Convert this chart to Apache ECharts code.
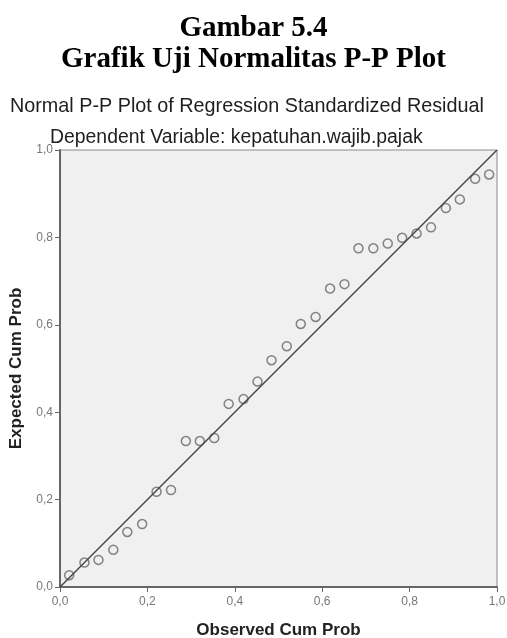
<!DOCTYPE html>
<html>
<head>
<meta charset="utf-8">
<title>Grafik Uji Normalitas P-P Plot</title>
<script src="https://cdn.jsdelivr.net/npm/echarts@6/dist/echarts.min.js"></script>
<style>
    html, body { margin: 0; padding: 0; background: #fff; }
    #main { width: 507px; height: 638px; }
</style>
</head>
<body>
<div id="main"></div>
<script>
// observed cum prob (x) and expected cum prob (y)
var observed = [0.021, 0.056, 0.088, 0.122, 0.154, 0.188, 0.221, 0.254, 0.288, 0.320,
                0.353, 0.386, 0.420, 0.452, 0.484, 0.519, 0.551, 0.585, 0.618, 0.651,
                0.683, 0.717, 0.750, 0.783, 0.816, 0.849, 0.883, 0.915, 0.950, 0.982];
var expected = [0.027, 0.056, 0.062, 0.085, 0.126, 0.144, 0.218, 0.222, 0.334, 0.334,
                0.341, 0.419, 0.430, 0.470, 0.519, 0.551, 0.602, 0.618, 0.683, 0.693,
                0.775, 0.775, 0.786, 0.799, 0.809, 0.823, 0.867, 0.887, 0.934, 0.944];
// diagonal reference line
var refLine = [[0, 0], [1, 1]];

var points = [];
for (var i = 0; i < observed.length; i++) {
    points.push([observed[i], expected[i]]);
}

// SPSS style labels: 0,2 instead of 0.2
function commaLabel(v) {
    return v.toFixed(1).replace('.', ',');
}

var myChart = echarts.init(document.getElementById('main'));
myChart.setOption({
    animation: false,
    backgroundColor: '#fff',
    title: [
        {
            text: 'Gambar 5.4\nGrafik Uji Normalitas P-P Plot',
            left: 'center',
            top: 8,
            textStyle: {
                fontFamily: 'Liberation Serif',
                fontWeight: 'bold',
                fontSize: 29,
                lineHeight: 31,
                color: '#000'
            }
        },
        {
            text: 'Normal P-P Plot of Regression Standardized Residual',
            left: 5,
            top: 92,
            textStyle: {
                fontFamily: 'Liberation Sans',
                fontWeight: 'normal',
                fontSize: 19.8,
                color: '#1e1e1e'
            }
        },
        {
            text: 'Dependent Variable: kepatuhan.wajib.pajak',
            left: 45,
            top: 123,
            textStyle: {
                fontFamily: 'Liberation Sans',
                fontWeight: 'normal',
                fontSize: 19.4,
                color: '#1e1e1e'
            }
        }
    ],
    grid: {
        left: 60,
        top: 150,
        width: 437,
        height: 437,
        outerBoundsMode: 'none',
        show: true,
        backgroundColor: '#f0f0f0',
        borderColor: '#8a8a8a',
        borderWidth: 1
    },
    xAxis: {
        type: 'value',
        min: 0,
        max: 1,
        interval: 0.2,
        name: 'Observed Cum Prob',
        nameLocation: 'middle',
        nameGap: 35,
        nameTextStyle: {
            fontFamily: 'Liberation Sans',
            fontWeight: 'bold',
            fontSize: 17,
            color: '#222'
        },
        axisLine: { show: true, lineStyle: { color: '#666', width: 2 } },
        axisTick: { show: true, length: 5, lineStyle: { color: '#666' } },
        axisLabel: {
            formatter: commaLabel,
            fontFamily: 'Liberation Sans',
            fontSize: 12,
            color: '#777',
            margin: 9
        },
        splitLine: { show: false }
    },
    yAxis: {
        type: 'value',
        min: 0,
        max: 1,
        interval: 0.2,
        name: 'Expected Cum Prob',
        nameLocation: 'middle',
        nameGap: 35,
        nameRotate: 90,
        nameTextStyle: {
            fontFamily: 'Liberation Sans',
            fontWeight: 'bold',
            fontSize: 17,
            color: '#222'
        },
        axisLine: { show: true, lineStyle: { color: '#666', width: 2 } },
        axisTick: { show: true, length: 5, lineStyle: { color: '#666' } },
        axisLabel: {
            formatter: commaLabel,
            fontFamily: 'Liberation Sans',
            fontSize: 12,
            color: '#777',
            margin: 7
        },
        splitLine: { show: false }
    },
    series: [
        {
            type: 'line',
            data: refLine,
            symbol: 'none',
            lineStyle: { color: '#444', width: 1.5 },
            silent: true
        },
        {
            type: 'scatter',
            data: points,
            symbol: 'circle',
            symbolSize: 9,
            itemStyle: {
                color: 'rgba(0,0,0,0)',
                borderColor: '#666',
                borderWidth: 1.5
            }
        }
    ]
});
</script>
</body>
</html>
